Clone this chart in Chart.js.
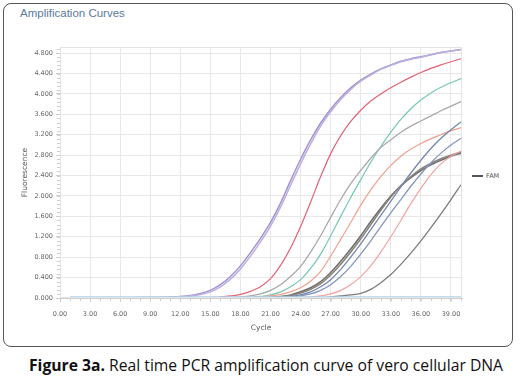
<!DOCTYPE html>
<html>
<head>
<meta charset="utf-8">
<script src="https://cdn.jsdelivr.net/npm/chart.js@4.4.1/dist/chart.umd.min.js"></script>
<style>
  html, body { margin:0; padding:0; background:#fff; width:521px; height:383px; overflow:hidden; }
  #box { position:absolute; left:3px; top:3px; width:508px; height:342px; border:1.5px solid #555; border-radius:8px; }
  #title { position:absolute; left:20px; top:7px; font-family:"Liberation Sans", Arial, sans-serif; font-size:11.5px; color:#5a7a9e; white-space:nowrap; }
  #legend { position:absolute; left:472px; top:172px; font-family:"DejaVu Sans", sans-serif; font-size:6.5px; color:#555; white-space:nowrap; }
  #legend span.l { display:inline-block; width:11px; height:2px; background:#555; vertical-align:middle; margin-right:3px; }
  #caption { position:absolute; left:29px; top:358px; font-family:"Open Sans", sans-serif; font-size:16px; color:#111; white-space:nowrap; line-height:1; }
  #c { position:absolute; left:0; top:0; }
</style>
</head>
<body>
<div id="box"></div>
<div id="title">Amplification Curves</div>
<div id="legend"><span class="l"></span>FAM</div>
<div id="caption"><b>Figure 3a.</b> Real time PCR amplification curve of vero cellular DNA</div>
<canvas id="c" width="521" height="383"></canvas>
<script>
// ---- data ----
const cycles = [1,2,3,4,5,6,7,8,9,10,11,12,13,14,15,16,17,18,19,20,21,22,23,24,25,26,27,28,29,30,31,32,33,34,35,36,37,38,39,40];
const xTicks = [0,3,6,9,12,15,18,21,24,27,30,33,36,39];
const yTicks = [0,0.4,0.8,1.2,1.6,2.0,2.4,2.8,3.2,3.6,4.0,4.4,4.8];

const purpleA = [0,0,0,0,0,0,0,0.01,0.01,0.01,0.02,0.03,0.05,0.09,0.15,0.26,0.42,0.63,0.89,1.17,1.48,1.86,2.3,2.72,3.1,3.43,3.7,3.93,4.12,4.27,4.39,4.49,4.57,4.64,4.69,4.73,4.77,4.81,4.84,4.87];
const purpleB = [0,0,0,0,0,0,0,0,0.01,0.01,0.01,0.02,0.04,0.07,0.12,0.22,0.37,0.57,0.82,1.1,1.41,1.78,2.21,2.63,3.02,3.37,3.65,3.89,4.09,4.25,4.37,4.48,4.56,4.63,4.68,4.72,4.77,4.81,4.84,4.87];
const red = [0,0,0,0,0,0,0,0,0,0,0,0,0,0,0.01,0.02,0.04,0.07,0.13,0.22,0.38,0.64,0.98,1.4,1.88,2.38,2.83,3.18,3.46,3.68,3.86,4.0,4.12,4.23,4.33,4.42,4.5,4.57,4.63,4.69];
const teal = [0,0,0,0,0,0,0,0,0,0,0,0,0,0,0,0,0,0,0.01,0.03,0.06,0.12,0.22,0.36,0.58,0.86,1.22,1.6,1.97,2.32,2.66,2.97,3.25,3.5,3.71,3.88,4.02,4.13,4.22,4.3];
const lightGray = [0,0,0,0,0,0,0,0,0,0,0,0,0,0,0,0,0.01,0.02,0.04,0.08,0.15,0.26,0.42,0.62,0.9,1.22,1.58,1.93,2.24,2.5,2.74,2.95,3.1,3.25,3.37,3.47,3.57,3.67,3.76,3.85];
const salmonA = [0,0,0,0,0,0,0,0,0,0,0,0,0,0,0,0,0,0,0.01,0.02,0.04,0.07,0.12,0.2,0.33,0.52,0.82,1.15,1.48,1.82,2.12,2.38,2.6,2.78,2.92,3.03,3.12,3.2,3.28,3.34];
const darkGrayA = [0,0,0,0,0,0,0,0,0,0,0,0,0,0,0,0,0,0,0,0,0.01,0.03,0.06,0.12,0.2,0.32,0.5,0.72,0.96,1.22,1.5,1.76,2.0,2.2,2.36,2.5,2.61,2.7,2.78,2.84];
const darkGrayB = [0,0,0,0,0,0,0,0,0,0,0,0,0,0,0,0,0,0,0,0,0.01,0.02,0.05,0.1,0.17,0.28,0.45,0.66,0.9,1.16,1.44,1.72,1.98,2.2,2.38,2.53,2.64,2.73,2.8,2.86];
const blueA = [0,0,0,0,0,0,0,0,0,0,0,0,0,0,0,0,0,0,0,0,0,0.01,0.03,0.06,0.12,0.22,0.36,0.56,0.8,1.06,1.34,1.62,1.9,2.18,2.45,2.7,2.93,3.13,3.3,3.45];
const blueB = [0,0,0,0,0,0,0,0,0,0,0,0,0,0,0,0,0,0,0,0,0,0,0.02,0.04,0.08,0.15,0.26,0.42,0.62,0.86,1.12,1.4,1.67,1.93,2.19,2.43,2.65,2.84,3.0,3.13];
const salmonB = [0,0,0,0,0,0,0,0,0,0,0,0,0,0,0,0,0,0,0,0,0,0,0,0.01,0.02,0.04,0.08,0.15,0.26,0.42,0.63,0.9,1.2,1.52,1.85,2.15,2.42,2.63,2.78,2.88];
const grayLate = [0,0,0,0,0,0,0,0,0,0,0,0,0,0,0,0,0,0,0,0,0,0,0,0,0,0,0.02,0.04,0.06,0.09,0.17,0.3,0.46,0.66,0.88,1.12,1.38,1.65,1.93,2.22];
const lightBlue = [0.02,0.02,0.02,0.02,0.02,0.02,0.02,0.02,0.02,0.02,0.02,0.02,0.02,0.02,0.02,0.02,0.02,0.02,0.02,0.02,0.02,0.02,0.02,0.02,0.02,0.02,0.02,0.02,0.02,0.02,0.02,0.02,0.02,0.02,0.02,0.02,0.02,0.02,0.02,0.02];

// ---- styles ----
const series = [
  {v: lightBlue, c:'#a9d2ec', w:1.6},
  {v: grayLate, c:'#7c7c7c', w:1.3},
  {v: salmonB, c:'#f2a3a3', w:1.2},
  {v: blueB, c:'#8597bd', w:1.3},
  {v: blueA, c:'#7486ae', w:1.3},
  {v: darkGrayB, c:'#8a8378', w:1.6},
  {v: darkGrayA, c:'#707070', w:1.6},
  {v: salmonA, c:'#f0a08e', w:1.2},
  {v: lightGray, c:'#a9a9a9', w:1.3},
  {v: teal, c:'#74c9b1', w:1.2},
  {v: red, c:'#e06275', w:1.2},
  {v: purpleB, c:'#bcaee0', w:1.5},
  {v: purpleA, c:'#a393cf', w:1.5}
];

const datasets = series.map((s, i) => ({
  label: 'FAM',
  data: cycles.map((x, k) => ({x: x, y: s.v[k]})),
  borderColor: s.c,
  borderWidth: s.w,
  pointRadius: 0,
  fill: false,
  cubicInterpolationMode: 'monotone'
}));

const minorTicks = {
  id: 'minorTicks',
  afterDraw(chart) {
    const ctx = chart.ctx, a = chart.chartArea;
    const xs = chart.scales.x, ys = chart.scales.y;
    ctx.save();
    ctx.strokeStyle = '#cfcfcf';
    ctx.lineWidth = 1;
    ctx.beginPath();
    for (let v = 0; v <= 4.9; v += 0.08) {
      const y = Math.round(ys.getPixelForValue(v)) + 0.5;
      ctx.moveTo(a.left - 3, y); ctx.lineTo(a.left, y);
    }
    for (let c = 0; c <= 40; c += 1) {
      const x = Math.round(xs.getPixelForValue(c)) + 0.5;
      ctx.moveTo(x, a.bottom); ctx.lineTo(x, a.bottom + 3);
    }
    ctx.stroke();
    ctx.strokeStyle = '#e4e4e4';
    ctx.strokeRect(a.left + 0.5, a.top + 0.5, a.right - a.left - 1, a.bottom - a.top - 1);
    ctx.restore();
  }
};

const tickFont = {family: '"DejaVu Sans", sans-serif', size: 6.5};

new Chart(document.getElementById('c'), {
  type: 'line',
  data: { datasets },
  plugins: [minorTicks],
  options: {
    responsive: false,
    animation: false,
    layout: { padding: { left: 0, right: 59, top: 47, bottom: 50 } },
    plugins: { legend: { display: false }, tooltip: { enabled: false } },
    scales: {
      x: {
        type: 'linear', min: 0, max: 40.1,
        afterBuildTicks: s => { s.ticks = xTicks.map(v => ({value: v})); },
        afterFit: s => { s.height = 35; },
        ticks: { font: tickFont, color: '#666', padding: 8, maxRotation: 0, callback: v => Number(v).toFixed(2) },
        grid: { color: '#e8e8e8', tickLength: 4, tickColor: '#cfcfcf' },
        border: { color: '#cfcfcf' },
        title: { display: true, text: 'Cycle', font: {family: '"DejaVu Sans", sans-serif', size: 7.5}, color: '#555', padding: {top: 0, bottom: 0} }
      },
      y: {
        type: 'linear', min: 0, max: 4.92,
        afterBuildTicks: s => { s.ticks = yTicks.map(v => ({value: v})); },
        afterFit: s => { s.width = 60; },
        ticks: { font: tickFont, color: '#666', padding: 3, callback: v => Number(v).toFixed(3) },
        grid: { color: '#e8e8e8', tickLength: 4, tickColor: '#cfcfcf' },
        border: { color: '#cfcfcf' },
        title: { display: true, text: 'Fluorescence', font: {family: '"DejaVu Sans", sans-serif', size: 7.5}, color: '#555', padding: {top: 21, bottom: 0} }
      }
    }
  }
});

// fit caption width to reference
(function(){
  const cap = document.getElementById('caption');
  const w = cap.getBoundingClientRect().width;
  const target = 474;
  cap.style.fontSize = (16 * target / w).toFixed(2) + 'px';
})();
</script>
</body>
</html>
